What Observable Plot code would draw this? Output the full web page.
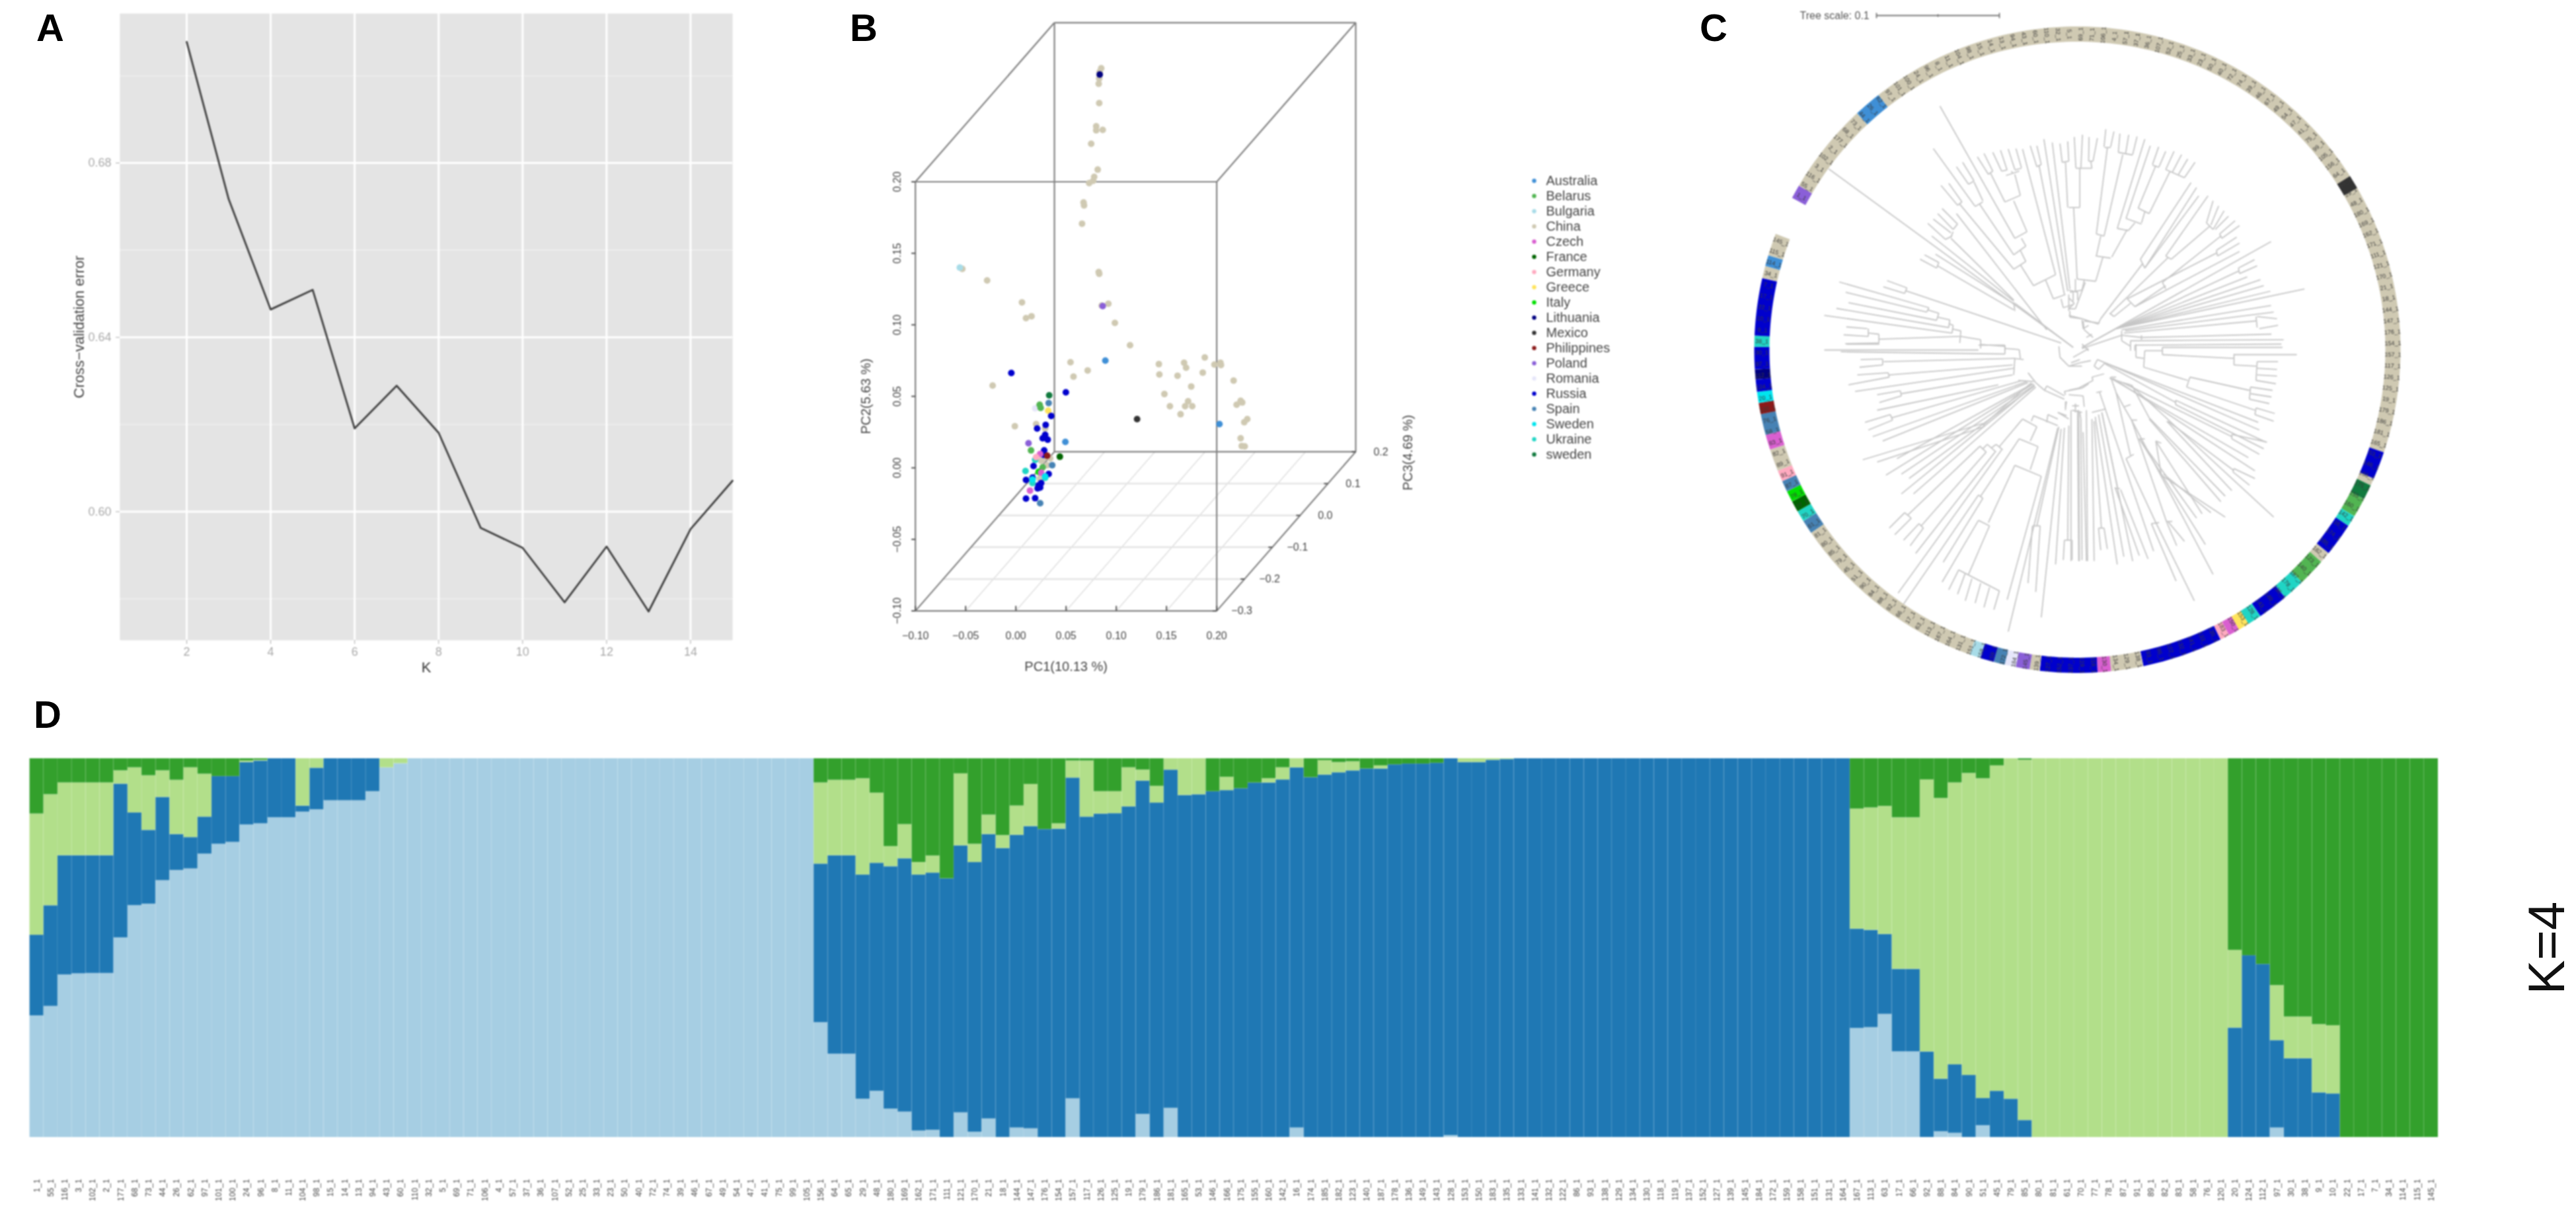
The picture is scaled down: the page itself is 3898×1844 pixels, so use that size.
<!DOCTYPE html>
<html><head><meta charset="utf-8">
<script src="https://cdn.jsdelivr.net/npm/d3@7"></script>
<script src="https://cdn.jsdelivr.net/npm/@observablehq/plot@0.6"></script>
<style>
html,body{margin:0;padding:0;background:#fff}
#root{position:relative;width:3898px;height:1844px;overflow:hidden;font-family:"Liberation Sans",Arial,sans-serif}
.tag{position:absolute;font:bold 58px/58px "Liberation Sans",Arial,sans-serif;color:#000}
#root svg{position:absolute;background:transparent;overflow:visible}
</style></head><body><div id="root"></div>
<script>
// ---------- Panel A: cross-validation error ----------
const kValues=[2,3,4,5,6,7,8,9,10,11,12,13,14,15];
const cvError=[0.7078,0.6717,0.6464,0.6509,0.6191,0.6289,0.6181,0.5963,0.5917,0.5792,0.592,0.5771,0.596,0.6071];
const kTicks=[2,4,6,8,10,12,14];
const errTicks=[0.60,0.64,0.68];
const errMinor=[0.58,0.62,0.66,0.70];

// ---------- Panel B: PCA, points read in front-plane PC1 / PC2 units ----------
const countries=["Australia","Belarus","Bulgaria","China","Czech","France","Germany","Greece","Italy","Lithuania","Mexico","Philippines","Poland","Romania","Russia","Spain","Sweden","Ukraine","sweden"];
const countryColors=["#3f8fd6","#52b552","#a8dce8","#cfc9b2","#d95fd0","#006400","#ffaac0","#ffe45c","#00e000","#000080","#333333","#8b1a1a","#8a5fd8","#e6e6fa","#0000cd","#4682b4","#00e5ee","#20d5c5","#117a3e"];
const chinaPts=[[.085,.2794],[.0835,.2769],[.083,.2722],[.0825,.2685],[.083,.255],[.08,.2388],[.08,.236],[.0865,.2363],[.075,.2266],[.0815,.2085],[.078,.2035],[.077,.2007],[.073,.1991],[.0674,.1856],[.0679,.1835],[.0659,.1707],[.0825,.1369],[.083,.1357],[.0855,.1135],[.0921,.1147],[.0986,.1013],[.1137,.0857],[.0544,.0738],[.0715,.0681],[.0574,.0638],[.1424,.0725],[.1429,.0653],[.1675,.0735],[.1695,.07],[.161,.0644],[.1881,.0772],[.1861,.0666],[.1977,.0722],[.2037,.0735],[.2042,.0719],[.2168,.061],[.1746,.0569],[.1479,.0516],[.1534,.0431],[.1685,.0431],[.1715,.0466],[.1756,.0431],[.164,.0375],[.2198,.0441],[.2238,.0469],[.2254,.0457],[.2304,.0341],[.2274,.0319],[.2238,.0207],[.2249,.0153],[.2279,.015],[-.0533,.1391],[-.0286,.131],[.0061,.1157],[.0101,.1047],[.0156,.106],[-.0231,.0575],[-.001,.0291],[.0202,.0306],[.0292,.0275],[.0277,.0066],[.0252,.005],[.0342,.0066],[.0312,.0019],[.0237,-.0075]];
const russiaPts=[[-.0045,.0663],[.0498,.0528],[.0352,.0363],[.0297,.03],[.0212,.0275],[.0292,.0231],[.0267,.0207],[.0317,.0197],[.0282,.0122],[.0277,.0091],[.0176,.0013],[.0327,-.0043],[.0101,-.0084],[.0166,-.0068],[.0226,-.0122],[.0252,-.0106],[.0217,-.0143],[.0101,-.0215],[.0192,-.0212],[.0242,-.0137]];
const australiaPts=[[.0891,.075],[.2027,.0306],[.0493,.0181]];
const spainPts=[[.0327,.0453],[.0242,-.0247],[.0362,.0019]];
const ukrainePts=[[.0096,-.0022],[.0192,.0056],[.0292,-.0069],[.0166,-.0106]];
const belarusPts=[[.0237,.0441],[.0247,.0419],[.0151,.0122],[.0267,.0003]];
const swedenDarkPts=[[.0332,.0507]];
const italyPts=[[.0227,-.0028]];
const francePts=[[.0438,.0078]];
const philippinesPts=[[.0312,.0085]];
const mexicoPts=[[.1207,.0341]];
const polandPts=[[.0126,.0172],[.0865,.1131]];
const romaniaPts=[[.0192,.0416]];
const bulgariaPts=[[-.0558,.14]];
const greecePts=[[.0322,.04]];
const czechPts=[[.0141,-.0159],[.0242,.0097],[.0252,-.0034]];
const germanyPts=[[.0202,.0075]];
const swedenPts=[[.0166,-.0081],[.0292,-.006]];
const lithuaniaPts=[[.0835,.275]];
const pc1Ticks=[-0.10,-0.05,0,0.05,0.10,0.15,0.20];
const pc2Ticks=[-0.10,-0.05,0,0.05,0.10,0.15,0.20];
const pc3Ticks=[-0.3,-0.2,-0.1,0,0.1,0.2];

// ---------- Panel C: ring of accessions (clockwise degrees from north) ----------
const ringCountry=["Poland","China","Australia","China","Mexico","China","Russia","China","sweden","Belarus","Ukraine","Russia","China","Belarus","Ukraine","Russia","Ukraine","Greece","Czech","Germany","Russia","China","Czech","Russia","China","Poland","Romania","Spain","Russia","Bulgaria","China","Spain","Ukraine","France","Italy","Spain","Germany","China","Czech","Spain","Philippines","Sweden","Russia","Lithuania","Russia","Ukraine","Russia","China","Australia","China"];
const ringBreaks=[298,300.5,317,322,417.5,420,468.5,473.5,474.8,477.5,481,483,489,491,496,500,505.5,508,510,512,513.7,528.2,534,536.4,546.7,548.5,551,553,555,557.5,559.5,595.5,598,600,602,604,606,608,612,614.7,618.5,620.5,622.5,624.7,626.5,630.5,632.5,642.8,645,647,651];

// Tree branches read per quadrant of the picture: [x1,y1,x2,y2]
const treeNW=[[20,375,1130,1185],[525,90,865,690],[865,690,920,660],[920,660,860,520],[820,525,890,495],[890,495,865,400],[825,405,885,385],[765,300,805,385],[800,290,830,380],[805,385,830,380],[835,285,865,378],[870,283,895,370],[865,380,895,372],[855,395,850,385],[695,320,745,400],[725,305,765,385],[745,400,765,385],[755,395,820,525],[628,345,680,430],[600,365,655,445],[655,445,680,430],[680,435,720,520],[685,545,720,525],[495,283,685,545],[705,535,860,765],[860,765,915,725],[915,725,895,690],[530,450,605,540],[565,440,625,525],[605,540,625,525],[615,535,860,830],[860,830,915,795],[915,795,890,745],[890,810,950,905],[950,905,1050,855],[900,285,1050,855],[935,270,965,365],[965,270,985,355],[965,365,985,355],[975,360,1090,945],[1040,965,1095,945],[1040,965,1005,880],[997,240,1105,930],[1035,255,1115,920],[1070,260,1080,345],[1105,250,1110,340],[1080,345,1110,340],[1095,345,1105,550],[600,578,1010,1105],[535,555,605,625],[515,578,585,650],[495,603,575,665],[470,622,550,695],[605,625,585,650],[585,660,575,685],[550,695,580,680],[575,690,860,970],[488,680,860,975],[505,762,865,990],[455,765,520,800],[435,785,510,825],[520,800,510,825],[515,815,860,1015],[860,980,865,1020],[865,985,1130,1185],[285,882,375,915],[268,910,365,940],[375,915,365,940],[370,928,1075,1165],[68,888,475,1005],[97,935,465,1025],[475,1005,465,1025],[470,1015,520,1030],[520,1030,510,1062],[110,982,510,1062],[515,1048,570,1060],[570,1060,565,1095],[55,1008,565,1095],[568,1078,585,1085],[585,1085,580,1120],[0,1040,580,1120],[583,1102,620,1110],[620,1110,615,1165],[100,1092,195,1100],[88,1128,200,1135],[200,1100,200,1135],[200,1120,248,1125],[248,1125,248,1165],[95,1168,248,1165],[248,1148,615,1135],[618,1135,710,1150],[710,1150,710,1190],[710,1172,820,1180],[820,1180,820,1200],[0,1197,700,1197],[1075,965,1085,1005],[1085,1005,1130,990],[1115,1020,1115,1048],[1115,1048,1170,1055],[1110,985,1110,1020],[1140,875,1140,930],[1115,935,1170,925],[1170,925,1180,880],[1130,935,1130,975],[1110,945,1110,985],[1170,1060,1175,1100],[1175,1100,1200,1085]];
const treeNE=[[25,230,32,370],[62,220,55,370],[92,230,90,340],[130,235,110,340],[90,340,110,340],[100,340,105,372],[32,372,105,372],[50,372,50,550],[0,550,50,550],[22,550,38,875],[38,875,122,885],[155,775,122,885],[122,770,190,780],[125,670,160,680],[145,680,125,770],[168,195,160,275],[205,205,190,275],[162,278,190,278],[175,280,125,670],[232,215,225,300],[272,220,258,305],[310,228,290,310],[225,300,290,312],[245,310,160,680],[220,645,270,655],[345,240,220,645],[265,650,195,775],[260,600,330,625],[370,270,260,600],[300,620,270,655],[315,553,365,578],[395,360,315,553],[408,275,380,355],[440,295,410,365],[380,358,410,368],[365,578,460,385],[440,378,525,415],[478,295,440,378],[512,310,470,390],[540,330,498,400],[573,345,525,415],[345,570,330,620],[555,437,325,785],[580,460,345,825],[590,497,345,825],[325,785,345,825],[335,805,145,1055],[632,497,440,770],[440,770,465,785],[655,520,625,620],[680,543,645,630],[705,565,655,650],[725,590,665,650],[625,620,655,650],[640,635,465,785],[450,778,190,1030],[185,1030,205,1045],[755,610,685,670],[775,632,695,690],[685,670,695,690],[690,680,425,890],[425,890,440,920],[440,905,300,1000],[762,685,670,745],[775,712,675,770],[670,745,675,770],[670,757,265,965],[265,965,300,1000],[280,985,205,1045],[775,750,300,1000],[145,1055,135,1075],[140,1075,70,1065],[65,1065,70,1105],[70,1105,110,1140],[80,1140,105,1125],[0,1040,60,1055],[60,1055,135,1080],[0,1010,30,1010],[30,1010,75,890],[0,925,40,935],[40,935,40,970],[0,960,25,985],[25,985,0,1010],[918,705,60,1185],[843,787,770,825],[855,815,775,850],[770,825,775,850],[772,838,215,1100],[810,865,215,1100],[870,878,215,1100],[885,905,215,1100],[915,930,215,1100],[1070,920,215,1100],[918,995,240,1105],[930,1025,255,1110],[945,1055,855,1045],[950,1085,865,1100],[850,1045,855,1095],[850,1065,250,1120],[920,1125,330,1140],[330,1130,330,1150],[330,1140,240,1130],[240,1110,240,1155],[240,1155,280,1180],[975,1150,280,1155],[280,1155,280,1200],[965,1170,300,1175],[300,1175,300,1200],[60,1190,240,1130],[215,1100,60,1185]];
const treeSE=[[970,15,425,15],[425,15,425,48],[1035,48,750,48],[425,48,750,65],[750,45,750,95],[750,95,850,100],[855,80,850,165],[950,80,855,80],[945,115,855,110],[945,145,855,140],[940,180,850,165],[345,30,425,30],[345,30,340,105],[305,0,305,60],[305,60,340,65],[340,105,540,165],[550,150,535,195],[550,150,820,210],[825,195,820,250],[925,210,825,195],[920,240,825,225],[910,270,820,250],[535,195,845,300],[850,290,845,320],[935,315,850,290],[930,350,845,320],[860,355,165,85],[865,390,165,85],[895,445,485,255],[885,475,485,275],[485,255,485,275],[485,265,165,90],[815,515,190,155],[865,500,740,430],[900,445,740,410],[740,410,740,430],[740,420,245,175],[845,575,200,155],[845,610,750,565],[820,640,745,580],[750,565,745,580],[747,572,450,350],[740,665,445,350],[710,690,365,335],[690,715,365,340],[365,335,285,185],[710,785,420,595],[645,765,430,590],[420,595,395,440],[605,770,395,440],[580,790,320,430],[395,440,420,450],[930,785,280,185],[620,910,320,430],[320,430,345,430],[655,1045,285,345],[285,345,310,345],[525,895,450,805],[490,915,445,810],[445,805,470,805],[570,1165,395,810],[487,1075,375,815],[375,815,410,810],[395,810,260,520],[260,520,295,500],[280,505,215,220],[445,810,285,345],[285,345,250,285],[250,285,280,275],[250,285,215,220],[215,220,190,150],[190,150,215,150],[185,155,245,175],[245,175,280,185],[220,1000,120,330],[250,965,135,320],[290,985,150,310],[320,960,210,650],[360,975,235,660],[210,655,232,655],[222,655,150,310],[385,940,140,220],[10,985,10,300],[48,985,45,300],[80,985,65,400],[115,985,105,340],[145,935,135,835],[175,930,160,835],[135,835,160,835],[148,835,115,350],[165,85,130,70],[130,70,115,100],[115,100,135,115],[135,115,165,85],[105,150,160,135],[105,150,110,165],[110,165,45,200],[45,200,0,210],[0,100,50,85],[50,85,100,75],[125,220,150,215],[25,280,45,280],[15,300,60,310],[105,310,165,295],[0,230,65,235],[65,235,70,285]];
const treeSW=[[75,35,820,45],[100,0,250,0],[700,5,820,5],[820,5,820,45],[820,20,885,25],[885,25,890,65],[165,70,265,68],[160,105,265,95],[265,68,265,95],[270,80,865,65],[150,140,290,130],[110,185,295,150],[290,130,295,150],[295,140,855,95],[140,215,860,110],[240,230,345,212],[250,265,350,235],[345,212,350,235],[350,225,855,140],[865,65,860,140],[860,65,905,70],[240,300,790,185],[185,355,300,320],[200,390,310,345],[300,320,310,345],[305,335,900,165],[220,420,920,170],[265,440,925,175],[175,525,720,360],[240,535,725,375],[720,360,725,375],[722,367,940,175],[330,520,945,180],[280,595,950,180],[350,590,955,185],[385,610,955,190],[350,680,950,190],[405,680,960,195],[880,165,950,170],[295,835,365,765],[320,865,395,790],[365,765,395,790],[380,775,705,465],[360,890,430,815],[390,915,450,835],[430,815,450,835],[440,825,735,490],[705,462,735,490],[720,475,740,455],[740,455,780,490],[415,950,775,490],[760,470,780,455],[780,455,810,480],[795,465,900,340],[335,1130,805,480],[700,685,360,1180],[720,700,540,990],[700,685,720,700],[710,690,885,430],[900,340,965,375],[965,375,935,440],[885,430,970,465],[970,465,935,570],[865,550,985,600],[865,550,745,810],[700,800,750,825],[700,800,535,1080],[750,825,655,1045],[610,1025,795,1120],[610,1025,565,1115],[640,1040,605,1135],[670,1065,640,1165],[710,1085,685,1175],[750,1105,725,1195],[795,1120,770,1205],[985,600,830,1160],[835,1305,1060,380],[925,1085,945,825],[960,1125,980,825],[945,825,980,825],[965,825,1065,375],[985,1240,1075,385],[1050,1000,1090,380],[1085,980,1090,890],[1125,980,1125,890],[1090,890,1125,890],[1105,890,1110,370],[1155,985,1150,300],[1195,985,1190,300],[1125,280,1155,280],[1140,270,1140,310],[1160,310,1165,340],[1165,340,1170,980],[1100,260,1095,290],[1060,310,1110,340],[950,325,1060,370],[950,325,940,350],[1015,320,1060,340],[1015,320,1010,355],[1060,310,1100,325],[925,130,960,175],[960,175,1000,210],[1000,210,1090,250],[1010,190,1090,235],[1090,215,1170,200],[1090,215,1095,230],[1095,260,1095,300],[1065,10,1070,60],[1070,60,1110,100],[1110,100,1170,100],[1010,190,1000,210],[1170,0,1200,30],[1130,60,1200,20],[1120,85,1160,70],[1170,200,1200,180]];

// ---------- Panel D: admixture proportions (cumulative % tops) ----------
const sampleLabels=["1_1","55_1","116_1","3_1","102_1","2_1","177_1","68_1","73_1","44_1","26_1","62_1","97_1","101_1","100_1","24_1","96_1","8_1","11_1","104_1","98_1","15_1","14_1","13_1","94_1","43_1","60_1","110_1","32_1","5_1","69_1","71_1","106_1","4_1","57_1","37_1","36_1","107_1","52_1","25_1","33_1","23_1","50_1","40_1","72_1","74_1","39_1","46_1","67_1","49_1","54_1","47_1","41_1","75_1","99_1","105_1","156_1","64_1","65_1","29_1","48_1","180_1","169_1","162_1","171_1","111_1","121_1","170_1","21_1","18_1","144_1","147_1","176_1","154_1","157_1","117_1","126_1","125_1","19_1","179_1","186_1","181_1","165_1","53_1","146_1","166_1","175_1","155_1","160_1","142_1","16_1","174_1","185_1","182_1","123_1","140_1","187_1","178_1","136_1","149_1","143_1","128_1","153_1","150_1","183_1","135_1","133_1","141_1","132_1","122_1","86_1","93_1","138_1","129_1","134_1","130_1","118_1","119_1","137_1","152_1","127_1","139_1","145_1","184_1","172_1","159_1","158_1","151_1","131_1","164_1","167_1","113_1","63_1","17_1","66_1","92_1","88_1","84_1","90_1","51_1","45_1","79_1","85_1","80_1","81_1","61_1","70_1","77_1","78_1","87_1","91_1","89_1","82_1","83_1","58_1","76_1","120_1","20_1","124_1","112_1","97_1","30_1","38_1","9_1","10_1","22_1","17_1","7_1","34_1","114_1","115_1","145_1"];
const topLightBlue=[32.1,34.6,42.9,43.2,43.3,43.3,52.7,61.2,61.6,67.8,70.5,70.9,74.8,77.4,77.9,82.5,82.8,84.4,84.4,85.9,86.5,88.9,88.9,88.9,91.3,97.6,98.7,
100,100,100,100,100,100,100,100,100,100,100,100,100,100,100,100,100,100,100,100,100,100,100,100,100,100,100,100,100,
30.3,22,22,10.1,12.2,7.5,6.7,1.7,1.9,0,6.5,1.4,4.9,0,2.5,2.3,0,0,10.2,0,0,0,0,6.1,0,7.7,0,0,0,0,0,0,0,0,2.5,0,
0,0,0,0,0,0,0,0,0,.5,0,0,0,0,
0,0,0,0,0,0,0,0,0,0,0,0,0,0,0,0,0,0,0,0,0,0,0,0,
28.8,29,32.5,22.6,22.6,0,1.5,1.1,0,3.1,0,0,0,
0,0,0,0,0,0,0,0,0,0,0,0,0,0,
0,0,0,2.5,0,0,0,0,
0,0,0,0,0,0,0];
const topDarkBlue=[53.4,61.2,74.4,74.4,74.4,74.4,93.3,85.7,81.1,89.8,80,79.2,84.6,95.3,95.3,99,99.4,100,100,87.5,97.5,100,100,100,100,97.6,98.7,
100,100,100,100,100,100,100,100,100,100,100,100,100,100,100,100,100,100,100,100,100,100,100,100,100,100,100,100,100,
72.2,74.4,74.4,69.3,72.4,71.5,73.6,69.3,69.8,68.3,77,72.6,80,76.3,79.8,82.1,81.3,81.4,94.9,84.6,85.4,85.5,87.3,94.1,88.3,97,90.3,90.5,91.3,91.6,92.1,93.6,93.6,94.4,97.6,95,
95.7,96.3,96.8,97.3,97.3,98.4,98.6,98.6,98.8,100,99,99,99.6,99.8,
100,100,100,100,100,100,100,100,100,100,100,100,100,100,100,100,100,100,100,100,100,100,100,100,
55,54.7,53.6,44.4,44.4,22.6,15.4,19.2,16.4,10.3,12.2,10.1,4.5,
0,0,0,0,0,0,0,0,0,0,0,0,0,0,
28.9,48,45.7,25.6,20.8,20.8,11.8,11.5,
0,0,0,0,0,0,0];
const topLightGreen=[85.4,90.5,93.6,93.6,93.6,93.6,96.8,97.6,95.5,96.8,94.3,97.6,95.9,95.3,95.3,99.4,99.6,100,100,100,100,100,100,100,100,100,100,
100,100,100,100,100,100,100,100,100,100,100,100,100,100,100,100,100,100,100,100,100,100,100,100,100,100,100,100,100,
93.6,94.3,94.3,94.7,90.9,76.8,82.6,72.6,74.3,68.3,96,77.4,85.1,79.7,87.5,93.2,81.3,82.8,99.4,99.4,91.3,91.3,97.6,97,92.7,100,100,100,91.3,95.1,92.1,93.6,94.7,97.6,100,95,
99.5,99,99.2,97.3,98.1,98.4,98.6,98.6,98.8,100,100,100,100,100,
100,100,100,100,100,100,100,100,100,100,100,100,100,100,100,100,100,100,100,100,100,100,100,100,
86.7,87,87.4,84.4,84.4,94.4,89.5,93.6,96.1,94.7,98.1,100,99.6,
100,100,100,100,100,100,100,100,100,100,100,100,100,100,
49.4,48,45.7,40.1,31.8,31.8,29.8,29.5,
0,0,0,0,0,0,0];
const clusterNames=["K1","K2","K3","K4"];
const clusterColors=["#a6cee3","#1f78b4","#b2df8a","#33a02c"];

// ---------- helpers ----------
const root=document.getElementById("root");
const font='"Liberation Sans",Arial,sans-serif';
function place(el,left,top,blur){el.style.left=left+"px";el.style.top=top+"px";if(blur)el.style.filter=`blur(${blur}px)`;root.appendChild(el);}
function tag(t,left,top){const d=document.createElement("div");d.className="tag";d.textContent=t;d.style.left=left+"px";d.style.top=top+"px";root.appendChild(d);}
tag("A",55,13);tag("B",1286,13);tag("C",2572,13);tag("D",51,1052);
const countryScale={type:"ordinal",domain:countries,range:countryColors};

// ---------- A ----------
const cvData=kValues.map((k,i)=>({k,e:cvError[i]}));
place(Plot.plot({
  width:1040,height:1040,marginLeft:81,marginRight:32,marginTop:20,marginBottom:72,
  style:{fontFamily:font,background:"transparent"},
  x:{domain:[0.41,15]},y:{domain:[0.5705,0.7143]},
  marks:[
    Plot.frame({fill:"#e4e4e4",stroke:null}),
    Plot.ruleY(errMinor,{stroke:"#fff",strokeOpacity:.55,strokeWidth:1.2}),
    Plot.ruleY(errTicks,{stroke:"#fff",strokeWidth:3}),
    Plot.ruleX(kTicks,{stroke:"#fff",strokeWidth:3}),
    Plot.axisX(kTicks,{label:null,tickSize:6,tickPadding:5,fontSize:18,color:"#a8a8a8"}),
    Plot.axisY(errTicks,{label:null,tickSize:6,tickPadding:7,fontSize:18,color:"#a8a8a8",tickFormat:d3.format(".2f")}),
    Plot.line(cvData,{x:"k",y:"e",stroke:"#3f3f3f",strokeWidth:2.8}),
    Plot.text(["K"],{frameAnchor:"bottom",dy:41,lineAnchor:"middle",textAnchor:"middle",fontSize:22,fill:"#333"}),
    Plot.text(["Cross\u2212validation error"],{frameAnchor:"left",dx:-62,rotate:-90,textAnchor:"middle",lineAnchor:"middle",fontSize:22,fill:"#444"})
  ]
}),100,0,0.9);

// ---------- B ----------
const dz=0.2768,dy3=0.2225;
const proj=(a,b,c)=>({x:a+dz*(c+0.3),y:b+dy3*(c+0.3)});
const L=(p,q)=>({x1:p.x,y1:p.y,x2:q.x,y2:q.y});
const xs=[-0.10,0.20],ys=[-0.10,0.20],zs=[-0.3,0.2];
const edges=[];
for(const a of xs)for(const b of ys)edges.push(L(proj(a,b,zs[0]),proj(a,b,zs[1])));
for(const c of zs){for(const b of ys)edges.push(L(proj(xs[0],b,c),proj(xs[1],b,c)));for(const a of xs)edges.push(L(proj(a,ys[0],c),proj(a,ys[1],c)));}
const floorX=pc1Ticks.slice(1,-1).map(v=>L(proj(v,-.1,-.3),proj(v,-.1,.2)));
const floorZ=pc3Ticks.slice(1,-1).map(v=>L(proj(-.1,-.1,v),proj(.2,-.1,v)));
const pcaGroups=[["China",chinaPts],["Romania",romaniaPts],["Bulgaria",bulgariaPts],["Poland",polandPts],["Australia",australiaPts],["Spain",spainPts],["Belarus",belarusPts],["Greece",greecePts],["Russia",russiaPts],["sweden",swedenDarkPts],["Lithuania",lithuaniaPts],["Ukraine",ukrainePts],["Italy",italyPts],["France",francePts],["Philippines",philippinesPts],["Mexico",mexicoPts],["Czech",czechPts],["Germany",germanyPts],["Sweden",swedenPts]];
const pcaData=pcaGroups.flatMap(([c,pts])=>pts.map(([x,y])=>({c,x,y})));
const bf={fontSize:16,fill:"#444",textAnchor:"middle",lineAnchor:"middle"};
place(Plot.plot({
  width:900,height:1040,marginLeft:104.7,marginRight:129,marginTop:33.7,marginBottom:116.4,
  style:{fontFamily:font,background:"transparent"},
  x:{domain:[-0.10,0.3384],axis:null},y:{domain:[-0.10,0.3113],axis:null},color:countryScale,
  marks:[
    Plot.link(floorX,{x1:"x1",y1:"y1",x2:"x2",y2:"y2",stroke:"#d8d8d8",strokeWidth:1.3}),
    Plot.link(floorZ,{x1:"x1",y1:"y1",x2:"x2",y2:"y2",stroke:"#e4e4e4",strokeWidth:2.6}),
    Plot.link(edges,{x1:"x1",y1:"y1",x2:"x2",y2:"y2",stroke:"#808080",strokeWidth:2.2}),
    Plot.link(pc1Ticks,{x1:d=>d,x2:d=>d,y1:()=>-0.1,y2:()=>-0.0965,stroke:"#555",strokeWidth:2}),
    Plot.link(pc2Ticks,{x1:()=>-0.1,x2:()=>-0.104,y1:d=>d,y2:d=>d,stroke:"#555",strokeWidth:2}),
    Plot.link(pc3Ticks,{x1:d=>proj(.2,-.1,d).x,y1:d=>proj(.2,-.1,d).y,x2:d=>proj(.2,-.1,d).x-.004,y2:d=>proj(.2,-.1,d).y,stroke:"#555",strokeWidth:2}),
    Plot.text(pc1Ticks,{x:d=>d,y:()=>-0.1,dy:38,text:d=>d3.format(".2f")(d).replace("-","\u2212"),...bf}),
    Plot.text(pc2Ticks,{x:()=>-0.1,y:d=>d,dx:-27,rotate:-90,text:d=>d3.format(".2f")(d).replace("-","\u2212"),...bf}),
    Plot.text(pc3Ticks,{x:d=>proj(.2,-.1,d).x,y:d=>proj(.2,-.1,d).y,dx:38,text:d=>d3.format(".1f")(d).replace("-","\u2212"),...bf}),
    Plot.dot(pcaData,{x:"x",y:"y",r:5,fill:"c"}),
    Plot.text(["PC1(10.13 %)"],{x:()=>0.05,y:()=>-0.1,dy:84,fontSize:20,fill:"#444",textAnchor:"middle",lineAnchor:"middle"}),
    Plot.text(["PC2(5.63 %)"],{x:()=>-0.1,y:()=>0.05,dx:-75,rotate:-90,fontSize:20,fill:"#444",textAnchor:"middle",lineAnchor:"middle"}),
    Plot.text(["PC3(4.69 %)"],{x:()=>proj(.2,-.1,-.05).x,y:()=>proj(.2,-.1,-.05).y,dx:184,dy:-119,rotate:-90,fontSize:20,fill:"#444",textAnchor:"middle",lineAnchor:"middle"})
  ]
}),1280,0,1.3);

// legend of panel B
place(Plot.plot({
  width:200,height:460,margin:0,style:{fontFamily:font,background:"transparent"},
  y:{type:"point",domain:countries,range:[18,442],padding:0,axis:null},color:countryScale,
  marks:[
    Plot.dot(countries,{y:d=>d,frameAnchor:"left",dx:21,r:3.2,fill:d=>d}),
    Plot.text(countries,{y:d=>d,frameAnchor:"left",dx:39,fontSize:20,fill:"#444",textAnchor:"start"})
  ]
}),2300,250,1);

// ---------- C ----------
const cx=3143,cy=528.5,ringR=477.5;
const pol=(a,r)=>({x:r*Math.sin(a*Math.PI/180),y:r*Math.cos(a*Math.PI/180)});
const ringLines=ringCountry.flatMap((c,i)=>{
  const a0=ringBreaks[i],a1=ringBreaks[i+1],pts=[];
  for(let a=a0;a<a1;a+=1)pts.push({...pol(a,ringR),c,id:i});
  pts.push({...pol(a1,ringR),c,id:i});
  return pts;
});
const ringStep=(ringBreaks[ringBreaks.length-1]-ringBreaks[0])/sampleLabels.length;
const ringLabels=sampleLabels.map((t,i)=>{
  const a=ringBreaks[0]+(i+.5)*ringStep,n=((a%360)+360)%360;
  return {t,...pol(a,ringR),rot:n<180?n-90:n+90};
});
const toTree=(ox,oy,list)=>list.map(([a,b,c,d])=>({x1:ox+a/3-cx,y1:cy-(oy+b/3),x2:ox+c/3-cx,y2:cy-(oy+d/3)}));
const branches=[...toTree(2760,130,treeNW),...toTree(3130,130,treeNE),...toTree(2760,520,treeSW),...toTree(3130,520,treeSE)];
const scaleBar=[{x1:-304,x2:-118,y1:505.5,y2:505.5},{x1:-304,x2:-304,y1:501.5,y2:509.5},{x1:-211,x2:-211,y1:503.5,y2:507.5},{x1:-118,x2:-118,y1:501.5,y2:509.5}];
place(Plot.plot({
  width:1120,height:1040,margin:0,style:{fontFamily:font,background:"transparent"},
  x:{domain:[-563,557],axis:null},y:{domain:[-511.5,528.5],axis:null},color:countryScale,
  marks:[
    Plot.link(branches,{x1:"x1",y1:"y1",x2:"x2",y2:"y2",stroke:"#c6c6c6",strokeWidth:1.8}),
    Plot.line(ringLines,{x:"x",y:"y",z:"id",stroke:"c",strokeWidth:23,strokeLinecap:"butt",strokeLinejoin:"round"}),
    Plot.text(ringLabels,{x:"x",y:"y",text:"t",rotate:"rot",fontSize:9,fill:"#3a3a3a",textAnchor:"middle",lineAnchor:"middle"}),
    Plot.link(scaleBar,{x1:"x1",y1:"y1",x2:"x2",y2:"y2",stroke:"#777",strokeWidth:1.8}),
    Plot.text(["Tree scale: 0.1"],{x:()=>-420,y:()=>505.5,fontSize:16,fill:"#555",textAnchor:"start",lineAnchor:"middle"})
  ]
}),2580,0,1.2);

// ---------- D ----------
const bars=d3.range(sampleLabels.length).flatMap(i=>{
  const t=[0,topLightBlue[i],topDarkBlue[i],topLightGreen[i],100];
  return clusterNames.map((k,j)=>({i,k,y1:t[j],y2:t[j+1]})).filter(d=>d.y2>d.y1);
});
const idx=d3.range(sampleLabels.length);
place(Plot.plot({
  width:3898,height:704,marginLeft:44.6,marginRight:209,marginTop:7,marginBottom:124,
  style:{fontFamily:font,background:"transparent"},
  x:{type:"band",domain:idx,padding:0,round:false},
  y:{domain:[0,100],axis:null},
  color:{domain:clusterNames,range:clusterColors},
  marks:[
    Plot.barY(bars,{x:"i",y1:"y1",y2:"y2",fill:"k",stroke:"#fff",strokeOpacity:.09,strokeWidth:1}),
    Plot.axisX(idx,{label:null,tickSize:0,tickPadding:63,tickRotate:-90,fontSize:12,fill:"#444",tickFormat:i=>sampleLabels[i]})
  ]
}),0,1140,0.9);

// K=4 label stays sharp, as in the reference
place(Plot.plot({
  width:120,height:704,margin:0,marginTop:7,marginBottom:124,style:{fontFamily:font,background:"transparent"},
  marks:[Plot.text(["K=4"],{frameAnchor:"middle",rotate:-90,fontSize:78,fill:"#111",textAnchor:"middle",lineAnchor:"middle"})]
}),3795,1140,0.5);
</script></body></html>
